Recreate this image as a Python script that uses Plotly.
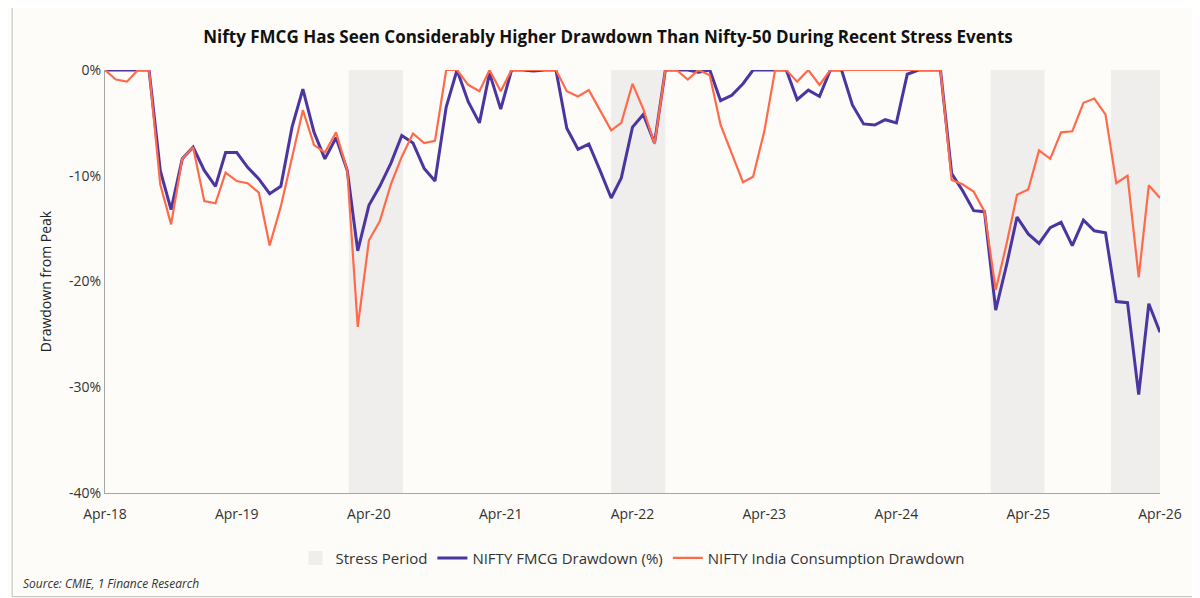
import plotly.graph_objects as go
import pandas as pd

fmcg = [0, 0, 0, 0, 0,
        -9.5, -13.2, -8.4, -7.3, -9.5, -11.0, -7.8, -7.8, -9.2, -10.3, -11.7, -11.0, -5.4, -1.8, -5.9,
        -8.4, -6.4, -9.5, -17.1, -12.8, -11.0, -8.8, -6.2, -6.9, -9.3, -10.5,
        -3.5, 0, -3.0, -5.0, -0.3, -3.7, 0, 0, -0.1, 0, 0,
        -5.5, -7.5, -7.0, -9.5, -12.1, -10.2, -5.4, -4.2, -6.9,
        0, 0, 0, -0.2, 0,
        -2.9, -2.4, -1.3, 0, 0, 0, 0,
        -2.8, -1.9, -2.5, 0, 0, -3.3, -5.1, -5.2, -4.7, -5.0, -0.4, 0, 0, 0,
        -9.8, -11.4, -13.3, -13.4, -22.7, -18.3, -13.9, -15.5, -16.4, -14.9, -14.4, -16.6, -14.2,
        -15.2, -15.4, -21.9, -22.0, -30.7, -22.1, -24.8]

consumption = [0, -0.9, -1.1, 0, 0,
               -10.8, -14.6, -8.4, -7.3, -12.4, -12.6, -9.7, -10.5, -10.7, -11.6, -16.6, -12.9, -8.2, -3.8, -7.1,
               -7.8, -5.9, -9.5, -24.3, -16.1, -14.3, -10.8, -8.2, -6.0, -6.9, -6.7,
               0, 0, -1.4, -2.0, 0, -2.0, 0, 0, 0, 0, 0,
               -2.0, -2.5, -1.9, -3.8, -5.7, -5.0, -1.3, -3.7, -7.0,
               0, 0, -0.9, 0, -0.5,
               -5.2, -7.9, -10.6, -10.1, -5.8, 0, 0,
               -1.1, 0, -1.4, 0, 0, 0, 0, 0, 0, 0, 0, 0, 0, 0,
               -10.4, -10.8, -11.5, -13.4, -20.8, -16.3, -11.8, -11.3, -7.6, -8.4, -5.9, -5.8, -3.1,
               -2.7, -4.2, -10.7, -10.0, -19.6, -10.9, -12.1]

dates = pd.date_range("2018-04-01", periods=len(fmcg), freq="MS")

stress_periods = [("2020-02-05", "2020-07-04"), ("2022-02-01", "2022-07-01"),
                  ("2024-12-18", "2025-05-16"), ("2025-11-16", "2026-04-01")]
tick_vals = ["2018-04-01", "2019-04-01", "2020-04-01", "2021-04-01", "2022-04-01",
             "2023-04-01", "2024-04-01", "2025-04-01", "2026-04-01"]
tick_text = ["Apr-18", "Apr-19", "Apr-20", "Apr-21", "Apr-22", "Apr-23", "Apr-24", "Apr-25", "Apr-26"]
y_tick_vals = [0, -0.1, -0.2, -0.3, -0.4]
y_tick_text = ["0%", "-10%", "-20%", "-30%", "-40%"]

SHADE = "#EFEEEC"
fig = go.Figure()
fig.add_trace(go.Scatter(x=[None], y=[None], mode="markers", name="Stress Period",
                         marker=dict(symbol="square", size=14, color=SHADE)))
fig.add_trace(go.Scatter(x=dates, y=[v / 100 for v in fmcg], mode="lines",
                         name="NIFTY FMCG Drawdown (%)", line=dict(color="#4B35A0", width=3)))
fig.add_trace(go.Scatter(x=dates, y=[v / 100 for v in consumption], mode="lines",
                         name="NIFTY India Consumption Drawdown", line=dict(color="#FF6B4A", width=2.2)))

fig.update_layout(
    width=1200, height=598, paper_bgcolor="#FDFCF9", plot_bgcolor="#FDFCF9",
    font=dict(family="Open Sans, Lato, sans-serif", size=14, color="#222"),
    title=dict(text="<b>Nifty FMCG Has Seen Considerably Higher Drawdown Than Nifty-50 During Recent Stress Events</b>",
               x=0.5, xanchor="center", y=0.962, font=dict(size=17, color="#111")),
    margin=dict(l=97, r=48, t=62, b=113),
    showlegend=True,
    legend=dict(orientation="h", x=0.5, xanchor="center", y=-0.115, yanchor="top",
                font=dict(size=15, color="#333"), bgcolor="rgba(0,0,0,0)"),
    xaxis=dict(type="date", range=["2018-04-01", "2026-04-01"], tickvals=tick_vals, ticktext=tick_text,
               showgrid=False, showline=True, linecolor="#A6A6A6", ticks="", ticklabelstandoff=8,
               tickfont=dict(size=14, color="#333")),
    yaxis=dict(range=[-0.4, 0], tickvals=y_tick_vals, ticktext=y_tick_text, showgrid=False, showline=True,
               linecolor="#A6A6A6", zeroline=False, ticks="",
               title=dict(text="Drawdown from Peak", font=dict(size=14, color="#222"), standoff=14),
               tickfont=dict(size=14, color="#333")),
)
for a, b in stress_periods:
    fig.add_vrect(x0=a, x1=b, fillcolor=SHADE, opacity=1, line_width=0, layer="below")
fig.add_shape(type="rect", xref="paper", yref="paper", x0=-0.088, x1=1.036, y0=-0.245, y1=1.16,
              line=dict(color="#BFBFBF", width=1), fillcolor="rgba(0,0,0,0)")
fig.add_annotation(text="<i>Source: CMIE, 1 Finance Research</i>", xref="paper", yref="paper",
                   x=-0.08, y=-0.215, xanchor="left", yanchor="middle", showarrow=False,
                   font=dict(size=12, color="#333"))
fig.write_html("out.html")
